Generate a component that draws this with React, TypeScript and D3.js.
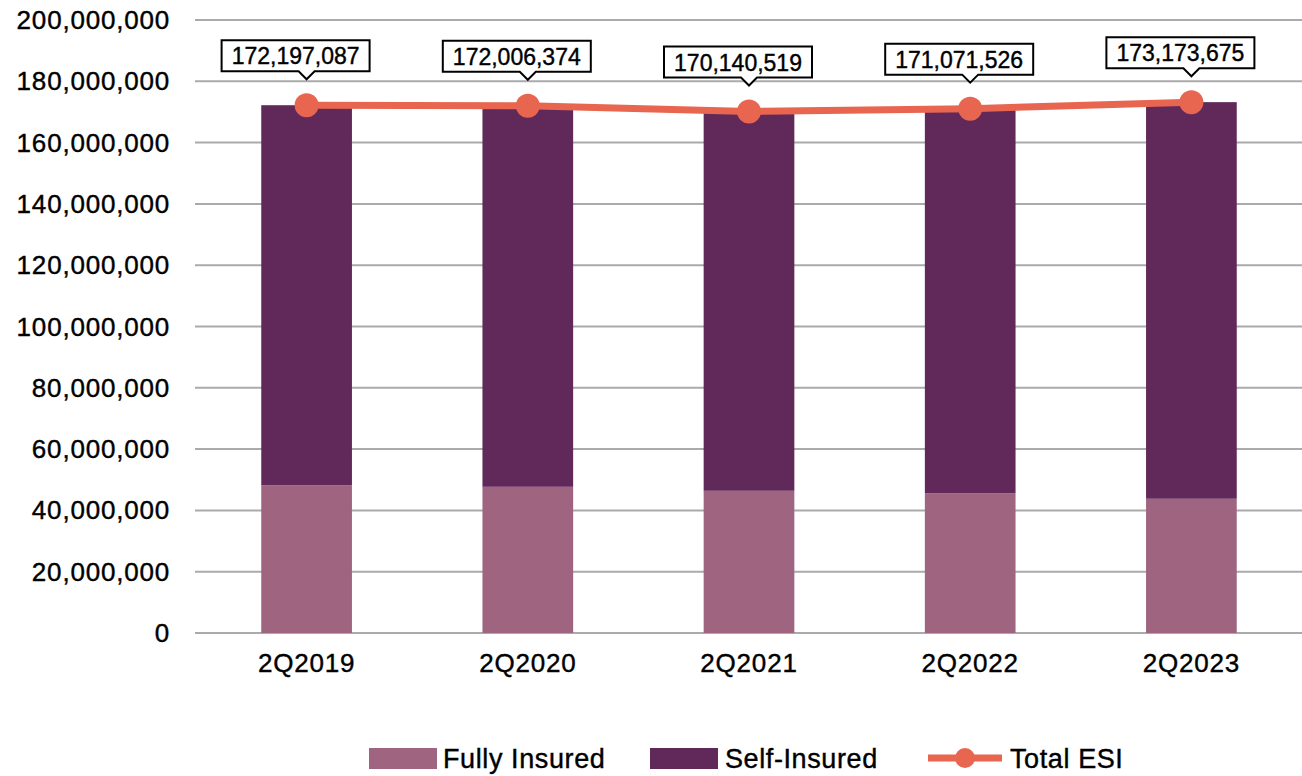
import React from "react";
import * as d3 from "d3";

const quarters = ["2Q2019", "2Q2020", "2Q2021", "2Q2022", "2Q2023"];
const fullyInsured = [48200000, 47700000, 46400000, 45600000, 43800000];
const selfInsured = [124000000, 124300000, 123700000, 125500000, 129400000];
const totalESI = [172197087, 172006374, 170140519, 171071526, 173173675];
const yTicks = [0, 20000000, 40000000, 60000000, 80000000, 100000000, 120000000, 140000000, 160000000, 180000000, 200000000];

const W = 1302;
const H = 776;
const FONT = "'Liberation Sans', Arial, Helvetica, sans-serif";
const C_FULLY = "#9f6580";
const C_SELF = "#60295a";
const C_LINE = "#e8664f";

const fmt = d3.format(",");

// little callout box above each point, box sits a bit left of its pointer
const Label = ({ x, y, text }: { x: number; y: number; text: string }) => {
  const w = 148;
  const h = 31;
  const cx = x - 11;
  const top = y - 65;
  const bottom = top + h;
  const path = `M${cx - w / 2},${top} H${cx + w / 2} V${bottom} H${x + 8} L${x},${bottom + 8} L${x - 8},${bottom} H${cx - w / 2} Z`;
  return (
    <g>
      <path d={path} fill="white" stroke="black" strokeWidth={2} />
      <text x={cx} y={bottom - 7} textAnchor="middle" fontSize={23} fill="#000" stroke="#000" strokeWidth={0.4}>
        {text}
      </text>
    </g>
  );
};

export default function App() {
  const x = d3.scaleBand().domain(quarters).range([196, 1302]).paddingInner(0.59).paddingOuter(0.295);
  const y = d3.scaleLinear().domain([0, 200000000]).range([633, 20]);

  const rows = quarters.map((q, i) => ({ q, fully: fullyInsured[i], self: selfInsured[i] }));
  const stack = d3.stack<any>().keys(["fully", "self"])(rows);
  const colors = [C_FULLY, C_SELF];

  const cx = (q: string) => (x(q) as number) + x.bandwidth() / 2;
  const line = d3
    .line<number>()
    .x((_, i) => cx(quarters[i]))
    .y((d) => y(d));

  return (
    <svg width={W} height={H} style={{ position: "absolute", left: 0, top: 0 }} fontFamily={FONT}>
      {yTicks.map((t) => (
        <g key={t}>
          <line x1={195} x2={W} y1={y(t)} y2={y(t)} stroke="#aaaaaa" strokeWidth={2} />
          <text
            x={170}
            y={y(t) + 9}
            textAnchor="end"
            fontSize={26}
            letterSpacing={0.8}
            fill="#000"
            stroke="#000"
            strokeWidth={0.4}
          >
            {fmt(t)}
          </text>
        </g>
      ))}
      {stack.map((layer, li) => (
        <g key={li}>
          {layer.map((d, i) => (
            <rect
              key={i}
              x={x(quarters[i])}
              width={x.bandwidth()}
              y={y(d[1])}
              height={y(d[0]) - y(d[1])}
              fill={colors[li]}
            />
          ))}
        </g>
      ))}
      {quarters.map((q) => (
        <text
          key={q}
          x={cx(q)}
          y={672}
          textAnchor="middle"
          fontSize={26}
          letterSpacing={0.8}
          fill="#000"
          stroke="#000"
          strokeWidth={0.4}
        >
          {q}
        </text>
      ))}
      <path d={line(totalESI) || ""} fill="none" stroke={C_LINE} strokeWidth={7} />
      {totalESI.map((v, i) => (
        <circle key={i} cx={cx(quarters[i])} cy={y(v)} r={12} fill={C_LINE} />
      ))}
      {totalESI.map((v, i) => (
        <Label key={i} x={cx(quarters[i])} y={y(v)} text={fmt(v)} />
      ))}
      <g fontSize={27} letterSpacing={0.6} fill="#000" stroke="#000" strokeWidth={0.4}>
        <rect x={369} y={748} width={68} height={21} fill={C_FULLY} stroke="none" />
        <text x={443} y={768}>Fully Insured</text>
        <rect x={650} y={748} width={68} height={21} fill={C_SELF} stroke="none" />
        <text x={725} y={768}>Self-Insured</text>
        <line x1={928} x2={1002} y1={758} y2={758} stroke={C_LINE} strokeWidth={7} />
        <circle cx={965} cy={758} r={10} fill={C_LINE} stroke="none" />
        <text x={1010} y={768}>Total ESI</text>
      </g>
    </svg>
  );
}
